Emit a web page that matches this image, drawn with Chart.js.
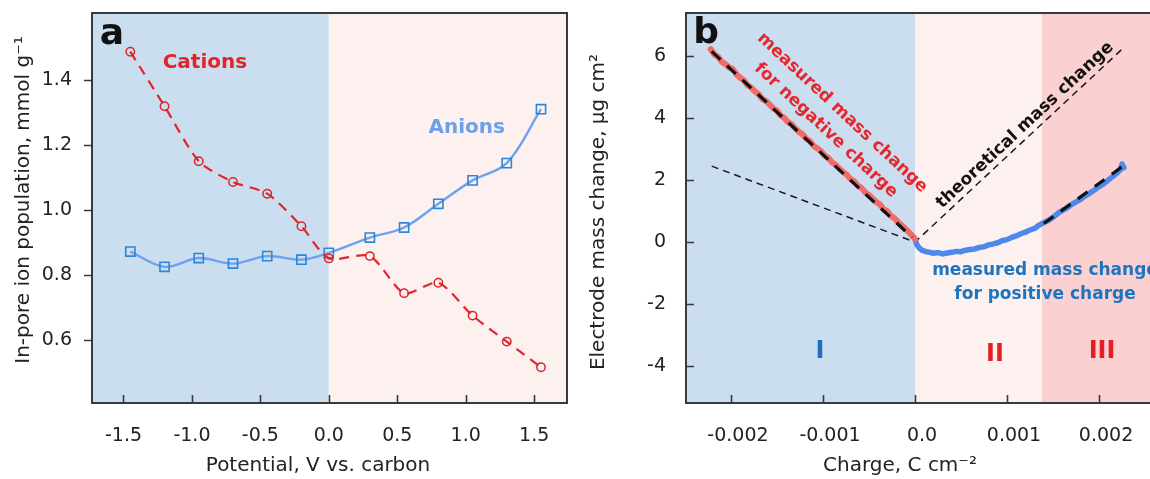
<!DOCTYPE html>
<html>
<head>
<meta charset="utf-8">
<script src="https://cdn.jsdelivr.net/npm/chart.js@4"></script>
<style>
  html, body { margin: 0; padding: 0; background: #ffffff; overflow: hidden; width: 1150px; height: 479px; }
  #panelA { position: absolute; left: 0; top: 0; width: 580px; height: 479px; }
  #panelB { position: absolute; left: 580px; top: 0; width: 590px; height: 479px; }
</style>
</head>
<body>
<div id="panelA"><canvas id="chartA"></canvas></div>
<div id="panelB"><canvas id="chartB"></canvas></div>
<script>
// ---------- Panel a: in-pore ion populations vs. potential ----------
const potential = [-1.45, -1.2, -0.95, -0.7, -0.45, -0.2, 0.0, 0.3, 0.55, 0.8, 1.05, 1.3, 1.55];
const cations   = [1.487, 1.319, 1.150, 1.086, 1.050, 0.950, 0.851, 0.858, 0.744, 0.776, 0.675, 0.595, 0.516];
const anions    = [0.872, 0.825, 0.852, 0.835, 0.858, 0.847, 0.868, 0.915, 0.946, 1.019, 1.091, 1.144, 1.310];

const potentialTicks      = [-1.5, -1.0, -0.5, 0.0, 0.5, 1.0, 1.5];
const potentialTickLabels = ['-1.5', '-1.0', '-0.5', '0.0', '0.5', '1.0', '1.5'];
const populationTicks      = [0.6, 0.8, 1.0, 1.2, 1.4];
const populationTickLabels = ['0.6', '0.8', '1.0', '1.2', '1.4'];

// ---------- Panel b: electrode mass change vs. charge ----------
const negCharge = [-0.00222, -0.00218, -0.00214, -0.00210, -0.00206, -0.00202, -0.00198, -0.00194, -0.00190, -0.00186,
                   -0.00182, -0.00178, -0.00174, -0.00170, -0.00166, -0.00162, -0.00158, -0.00154, -0.00150, -0.00146,
                   -0.00142, -0.00138, -0.00134, -0.00130, -0.00126, -0.00122, -0.00118, -0.00114, -0.00110, -0.00106,
                   -0.00102, -0.00098, -0.00094, -0.00090, -0.00086, -0.00082, -0.00078, -0.00074, -0.00070, -0.00066,
                   -0.00062, -0.00058, -0.00054, -0.00050, -0.00046, -0.00042, -0.00038, -0.00034, -0.00030, -0.00026,
                   -0.00022, -0.00018, -0.00014, -0.00010, -0.00006, -0.00002, 0.00000];
const negMass   = [6.22, 6.05, 5.98, 5.82, 5.74, 5.63, 5.58, 5.41, 5.30, 5.22,
                   5.06, 4.98, 4.86, 4.77, 4.62, 4.55, 4.44, 4.31, 4.24, 4.08,
                   4.00, 3.87, 3.80, 3.66, 3.55, 3.47, 3.33, 3.25, 3.10, 3.02,
                   2.93, 2.78, 2.71, 2.57, 2.49, 2.36, 2.26, 2.17, 2.03, 1.96,
                   1.82, 1.74, 1.60, 1.52, 1.40, 1.29, 1.21, 1.06, 0.99, 0.84,
                   0.76, 0.63, 0.53, 0.42, 0.30, 0.18, 0.10];

const posCharge = [0.00000, 0.00002, 0.00005, 0.00008, 0.00012, 0.00016, 0.00020, 0.00025, 0.00030, 0.00035,
                   0.00040, 0.00045, 0.00050, 0.00055, 0.00060, 0.00065, 0.00070, 0.00075, 0.00080, 0.00085,
                   0.00090, 0.00095, 0.00100, 0.00105, 0.00110, 0.00115, 0.00120, 0.00125, 0.00130, 0.00135,
                   0.00140, 0.00145, 0.00150, 0.00155, 0.00160, 0.00165, 0.00170, 0.00175, 0.00180, 0.00185,
                   0.00190, 0.00195, 0.00200, 0.00205, 0.00210, 0.00215, 0.00220, 0.00223, 0.00225, 0.00227];
const posMass   = [0.10, -0.08, -0.20, -0.27, -0.31, -0.33, -0.36, -0.34, -0.38, -0.35,
                   -0.33, -0.30, -0.31, -0.26, -0.24, -0.22, -0.17, -0.15, -0.09, -0.06,
                   -0.02, 0.05, 0.08, 0.15, 0.20, 0.27, 0.32, 0.39, 0.44, 0.55,
                   0.63, 0.70, 0.80, 0.92, 1.02, 1.10, 1.21, 1.30, 1.38, 1.49,
                   1.58, 1.68, 1.79, 1.88, 2.00, 2.12, 2.24, 2.33, 2.52, 2.40];

// straight-line fits drawn over the measured curves
const negFitCharge = [-0.00221, -0.00003];
const negFitMass   = [6.15, 0.15];
const posFitCharge = [0.00140, 0.00226];
const posFitMass   = [0.60, 2.45];

// theoretical mass change for a pure counter-ion response
const theoryCharge = [-0.00221, 0.0, 0.00226];
const theoryMass   = [2.45, 0.0, 6.25];

// boundaries of regions I, II and III
const regionBounds = [0.0, 0.00138];

const chargeTicks      = [-0.002, -0.001, 0.0, 0.001, 0.002];
const chargeTickLabels = ['-0.002', '-0.001', '0.0', '0.001', '0.002'];
const massTicks      = [-4, -2, 0, 2, 4, 6];
const massTickLabels = ['-4', '-2', '0', '2', '4', '6'];

const FONT = '"DejaVu Sans", "Liberation Sans", sans-serif';
const AXIS_COLOR = '#3a3a3a';

function pairs(xs, ys) { return xs.map((x, i) => ({ x: x, y: ys[i] })); }

// shaded vertical bands in data coordinates
const bandsPlugin = {
  id: 'bands',
  beforeDatasetsDraw(chart, args, opts) {
    const { ctx, chartArea: a, scales: { x } } = chart;
    ctx.save();
    opts.bands.forEach(b => {
      const x0 = b.from === null ? a.left : Math.max(a.left, x.getPixelForValue(b.from));
      const x1 = b.to === null ? a.right : Math.min(a.right, x.getPixelForValue(b.to));
      ctx.fillStyle = b.color;
      ctx.fillRect(x0, a.top, x1 - x0, a.bottom - a.top);
    });
    ctx.restore();
  }
};

// box frame plus tick marks (inward or outward)
const framePlugin = {
  id: 'frame',
  afterDatasetsDraw(chart, args, opts) {
    const { ctx, chartArea: a, scales: { x, y } } = chart;
    ctx.save();
    ctx.strokeStyle = AXIS_COLOR;
    ctx.lineWidth = 1.6;
    ctx.beginPath();
    (opts.xInner || []).forEach(v => {
      const px = Math.round(x.getPixelForValue(v)) + 0.5;
      ctx.moveTo(px, a.bottom); ctx.lineTo(px, a.bottom - 8);
    });
    (opts.yInner || []).forEach(v => {
      const py = Math.round(y.getPixelForValue(v)) + 0.5;
      ctx.moveTo(a.left, py); ctx.lineTo(a.left + 8, py);
    });
    (opts.yOuter || []).forEach(v => {
      const py = Math.round(y.getPixelForValue(v)) + 0.5;
      ctx.moveTo(a.left, py); ctx.lineTo(a.left - 8, py);
    });
    ctx.stroke();
    ctx.lineWidth = 2;
    ctx.strokeRect(a.left, a.top, a.right - a.left, a.bottom - a.top);
    ctx.restore();
  }
};

// text labels: anchored in data coordinates or in canvas pixels
const textPlugin = {
  id: 'texts',
  afterDraw(chart, args, opts) {
    const { ctx, scales: { x, y } } = chart;
    opts.items.forEach(t => {
      const px = t.px !== undefined ? t.px : x.getPixelForValue(t.x);
      const py = t.py !== undefined ? t.py : y.getPixelForValue(t.y);
      ctx.save();
      ctx.translate(px, py);
      ctx.rotate((t.angle || 0) * Math.PI / 180);
      ctx.font = t.font;
      ctx.fillStyle = t.color;
      ctx.textAlign = 'center';
      ctx.textBaseline = 'middle';
      const lines = t.text.split('\n');
      const lh = t.lineHeight || 24;
      lines.forEach((ln, i) => {
        ctx.fillText(ln, 0, (i - (lines.length - 1) / 2) * lh);
      });
      ctx.restore();
    });
  }
};

function fixedTicks(values) {
  return function (scale) { scale.ticks = values.map(v => ({ value: v })); };
}
function labelFrom(values, labels) {
  return function (value) {
    const i = values.findIndex(v => Math.abs(v - value) < 1e-9);
    return i >= 0 ? labels[i] : '';
  };
}

// ---------- chart a ----------
new Chart(document.getElementById('chartA'), {
  type: 'line',
  data: {
    datasets: [
      {
        label: 'Cations',
        data: pairs(potential, cations),
        borderColor: '#e3242b',
        borderWidth: 2.2,
        borderDash: [10, 7],
        tension: 0.25,
        pointStyle: 'circle',
        pointRadius: 4.2,
        pointBorderWidth: 1.5,
        pointBorderColor: '#d9242b',
        pointBackgroundColor: 'rgba(0,0,0,0)'
      },
      {
        label: 'Anions',
        data: pairs(potential, anions),
        borderColor: '#6ea1f0',
        borderWidth: 2.4,
        tension: 0.35,
        pointStyle: 'rect',
        pointRadius: 6.5,
        pointBorderWidth: 1.6,
        pointBorderColor: '#2a86d6',
        pointBackgroundColor: 'rgba(0,0,0,0)'
      }
    ]
  },
  options: {
    responsive: true,
    maintainAspectRatio: false,
    animation: false,
    layout: { padding: { left: 0, right: 13, top: 13, bottom: 0 } },
    plugins: {
      legend: { display: false },
      tooltip: { enabled: false },
      bands: { bands: [
        { from: null, to: 0.0, color: '#cadeef' },
        { from: 0.0, to: null, color: '#fdf1f0' }
      ] },
      frame: { xInner: potentialTicks, yOuter: populationTicks },
      texts: { items: [
        { x: -1.585, y: 1.54, text: 'a', font: 'bold 36px ' + FONT, color: '#111111' },
        { x: -0.905, y: 1.452, text: 'Cations', font: 'bold 20px ' + FONT, color: '#e3222a' },
        { x: 1.007, y: 1.252, text: 'Anions', font: 'bold 20px ' + FONT, color: '#6e9fe9' },
        { px: 318, py: 466, text: 'Potential, V vs. carbon', font: '20px ' + FONT, color: '#222222' },
        { px: 24, py: 200, angle: -90, text: 'In-pore ion population, mmol g\u207B\u00B9', font: '20px ' + FONT, color: '#222222' }
      ] }
    },
    scales: {
      x: {
        type: 'linear',
        min: -1.73, max: 1.74,
        afterBuildTicks: fixedTicks(potentialTicks),
        afterFit(s) { s.height = 76; s.paddingLeft = 0; s.paddingRight = 0; },
        grid: { display: false },
        border: { display: false },
        ticks: { color: '#222222', font: { family: FONT, size: 19 }, padding: 14, maxRotation: 0,
                 callback: labelFrom(potentialTicks, potentialTickLabels) }
      },
      y: {
        type: 'linear',
        min: 0.406, max: 1.606,
        afterBuildTicks: fixedTicks(populationTicks),
        afterFit(s) { s.width = 92; s.paddingTop = 0; s.paddingBottom = 0; },
        grid: { display: false },
        border: { display: false },
        ticks: { color: '#222222', font: { family: FONT, size: 19 }, padding: 12,
                 callback: labelFrom(populationTicks, populationTickLabels) }
      }
    }
  },
  plugins: [bandsPlugin, framePlugin, textPlugin]
});

// ---------- chart b ----------
new Chart(document.getElementById('chartB'), {
  type: 'line',
  data: {
    datasets: [
      {
        label: 'theoretical mass change',
        data: pairs(theoryCharge, theoryMass),
        borderColor: '#1a1a1a',
        borderWidth: 1.5,
        borderDash: [7, 5],
        pointRadius: 0,
        tension: 0,
        order: 3
      },
      {
        label: 'measured mass change for negative charge',
        data: pairs(negCharge, negMass),
        borderColor: '#f26b6b',
        borderWidth: 6,
        borderJoinStyle: 'round',
        borderCapStyle: 'round',
        pointRadius: 0,
        tension: 0,
        order: 2
      },
      {
        label: 'measured mass change for positive charge',
        data: pairs(posCharge, posMass),
        borderColor: '#4d88ea',
        borderWidth: 5.5,
        borderJoinStyle: 'round',
        borderCapStyle: 'round',
        pointRadius: 0,
        tension: 0,
        order: 2
      },
      {
        label: 'fit, negative charge',
        data: pairs(negFitCharge, negFitMass),
        borderColor: '#111111',
        borderWidth: 3.2,
        borderDash: [12, 9],
        pointRadius: 0,
        order: 1
      },
      {
        label: 'fit, positive charge',
        data: pairs(posFitCharge, posFitMass),
        borderColor: '#111111',
        borderWidth: 3.2,
        borderDash: [12, 9],
        pointRadius: 0,
        order: 1
      }
    ]
  },
  options: {
    responsive: true,
    maintainAspectRatio: false,
    animation: false,
    layout: { padding: { left: 0, right: 12, top: 13, bottom: 0 } },
    plugins: {
      legend: { display: false },
      tooltip: { enabled: false },
      bands: { bands: [
        { from: null, to: regionBounds[0], color: '#cadeef' },
        { from: regionBounds[0], to: regionBounds[1], color: '#fdf1f0' },
        { from: regionBounds[1], to: null, color: '#fbd0d0' }
      ] },
      frame: { xInner: chargeTicks, yInner: massTicks },
      texts: { items: [
        { x: -0.00227, y: 6.74, text: 'b', font: 'bold 36px ' + FONT, color: '#111111' },
        { x: -0.000880, y: 3.887, angle: 43, lineHeight: 24, text: 'measured mass change\nfor negative charge', font: 'bold 17px ' + FONT, color: '#e8262d' },
        { x: 0.001196, y: 3.77, angle: -43, text: 'theoretical mass change', font: 'bold 17px ' + FONT, color: '#111111' },
        { x: 0.001413, y: -1.29, lineHeight: 24, text: 'measured mass change\nfor positive charge', font: 'bold 17px ' + FONT, color: '#1d74c0' },
        { x: -0.001033, y: -3.55, text: 'I', font: 'bold 24px ' + FONT, color: '#1f6fbf' },
        { x: 0.00087, y: -3.645, text: 'II', font: 'bold 24px ' + FONT, color: '#e51e25' },
        { x: 0.002033, y: -3.55, text: 'III', font: 'bold 24px ' + FONT, color: '#e51e25' },
        { px: 320, py: 466, text: 'Charge, C cm\u207B\u00B2', font: '20px ' + FONT, color: '#222222' },
        { px: 19, py: 212, angle: -90, text: 'Electrode mass change, \u03BCg cm\u00B2', font: '20px ' + FONT, color: '#222222' }
      ] }
    },
    scales: {
      x: {
        type: 'linear',
        min: -0.002489, max: 0.002641,
        afterBuildTicks: fixedTicks(chargeTicks),
        afterFit(s) { s.height = 76; s.paddingLeft = 0; s.paddingRight = 0; },
        grid: { display: false },
        border: { display: false },
        ticks: { color: '#222222', font: { family: FONT, size: 19 }, padding: 14, maxRotation: 0, labelOffset: 7,
                 callback: labelFrom(chargeTicks, chargeTickLabels) }
      },
      y: {
        type: 'linear',
        min: -5.19, max: 7.39,
        afterBuildTicks: fixedTicks(massTicks),
        afterFit(s) { s.width = 106; s.paddingTop = 0; s.paddingBottom = 0; },
        grid: { display: false },
        border: { display: false },
        ticks: { color: '#222222', font: { family: FONT, size: 19 }, padding: 12,
                 callback: labelFrom(massTicks, massTickLabels) }
      }
    }
  },
  plugins: [bandsPlugin, framePlugin, textPlugin]
});
</script>
</body>
</html>
